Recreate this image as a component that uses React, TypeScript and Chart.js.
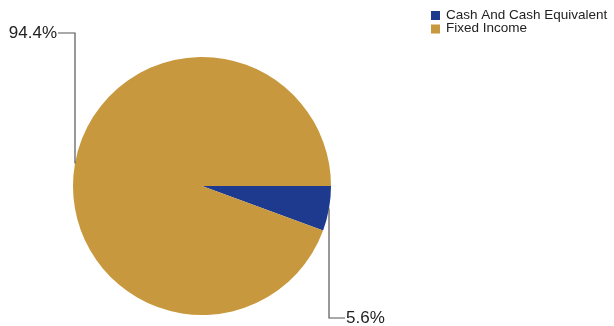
import React, { useEffect, useRef } from "react";
import { Chart, registerables } from "chart.js";

Chart.register(...registerables);

const categories = ["Cash And Cash Equivalent", "Fixed Income"];
const values = [5.6, 94.4];
const valueLabels = ["5.6%", "94.4%"];
const colors = ["#1d3a8e", "#c8983f"];

const leaderPlugin = {
  id: "leaders",
  afterDraw(chart: any) {
    const ctx = chart.ctx;
    const meta = chart.getDatasetMeta(0);
    ctx.save();
    ctx.strokeStyle = "#555555";
    ctx.lineWidth = 1.2;
    ctx.fillStyle = "#222222";
    ctx.font = "17px 'Liberation Sans', Arial, sans-serif";
    ctx.textBaseline = "middle";
    meta.data.forEach((arc: any, i: number) => {
      const mid = (arc.startAngle + arc.endAngle) / 2;
      const px = arc.x + Math.cos(mid) * arc.outerRadius;
      const py = arc.y + Math.sin(mid) * arc.outerRadius;
      const goUp = Math.sin(mid) < 0 ? true : false;
      const left = Math.cos(mid) < 0;
      const ty = goUp ? 33 : 318;
      const tx = left ? px - 17 : px + 16;
      ctx.beginPath();
      ctx.moveTo(px, py);
      ctx.lineTo(px, ty);
      ctx.lineTo(tx, ty);
      ctx.stroke();
      ctx.textAlign = left ? "right" : "left";
      ctx.fillText(valueLabels[i], left ? tx - 1 : tx + 1, ty);
    });
    // legend
    ctx.font = "13.5px 'Liberation Sans', Arial, sans-serif";
    ctx.textAlign = "left";
    categories.forEach((c, i) => {
      const y = 15 + i * 13.5;
      ctx.fillStyle = colors[i];
      ctx.fillRect(431, y - 4, 9, 9);
      ctx.fillStyle = "#222222";
      ctx.fillText(c, 446, y);
    });
    ctx.restore();
  },
};

export default function App() {
  const ref = useRef<HTMLCanvasElement>(null);
  useEffect(() => {
    document.body.style.margin = "0";
    const chart = new Chart(ref.current!, {
      type: "pie",
      data: {
        labels: categories,
        datasets: [
          {
            data: values,
            backgroundColor: colors,
            borderWidth: 0,
          },
        ],
      },
      options: {
        animation: false,
        responsive: false,
        rotation: 90,
        layout: { padding: { left: 73, right: 283, top: 57, bottom: 11 } },
        plugins: {
          legend: { display: false },
          tooltip: { enabled: false },
        },
      },
      plugins: [leaderPlugin],
    });
    return () => chart.destroy();
  }, []);
  return (
    <div style={{ position: "absolute", left: 0, top: 0, width: 614, height: 326, background: "#fff" }}>
      <canvas ref={ref} width={614} height={326} style={{ width: 614, height: 326 }} />
    </div>
  );
}
